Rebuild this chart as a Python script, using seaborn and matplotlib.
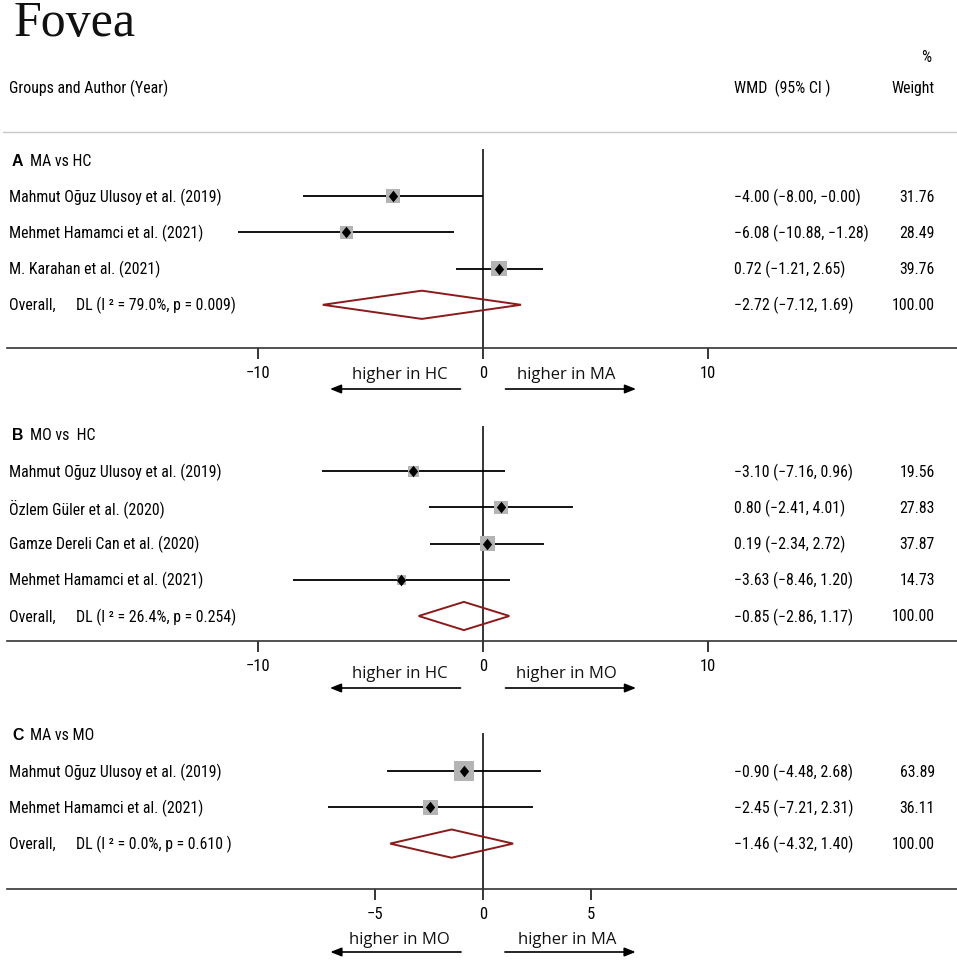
import matplotlib
matplotlib.use("Agg")
import matplotlib.pyplot as plt
import matplotlib.transforms as mtransforms
from matplotlib import font_manager
from matplotlib.lines import Line2D
import seaborn as sns
import pandas as pd

# ---- data ----
studies_a = ["Mahmut Oğuz Ulusoy et al. (2019)", "Mehmet Hamamci et al. (2021)",
             "M. Karahan et al. (2021)"]
wmd_a = [-4.00, -6.08, 0.72]
lo_a = [-8.00, -10.88, -1.21]
hi_a = [-0.0, -1.28, 2.65]
weight_a = [31.76, 28.49, 39.76]
overall_a = [-2.72, -7.12, 1.69]
het_a = "DL (I ² = 79.0%, p = 0.009)"

studies_b = ["Mahmut Oğuz Ulusoy et al. (2019)", "Özlem Güler et al. (2020)",
             "Gamze Dereli Can et al. (2020)", "Mehmet Hamamci et al. (2021)"]
wmd_b = [-3.10, 0.80, 0.19, -3.63]
lo_b = [-7.16, -2.41, -2.34, -8.46]
hi_b = [0.96, 4.01, 2.72, 1.20]
weight_b = [19.56, 27.83, 37.87, 14.73]
overall_b = [-0.85, -2.86, 1.17]
het_b = "DL (I ² = 26.4%, p = 0.254)"

studies_c = ["Mahmut Oğuz Ulusoy et al. (2019)", "Mehmet Hamamci et al. (2021)"]
wmd_c = [-0.90, -2.45]
lo_c = [-4.48, -7.21]
hi_c = [2.68, 2.31]
weight_c = [63.89, 36.11]
overall_c = [-1.46, -4.32, 1.40]
het_c = "DL (I ² = 0.0%, p = 0.610 )"

ticks_ab = [-10, 0, 10]
ticks_c = [-5, 0, 5]

# ---- style ----
sns.set_theme(style="white")
installed = {f.name for f in font_manager.fontManager.ttflist}
fam = next(f for f in ["Liberation Sans Narrow", "Roboto Condensed", "Roboto", "DejaVu Sans"]
           if f in installed)
plt.rcParams["font.family"] = [fam, "DejaVu Sans"]
plt.rcParams["text.color"] = "black"
plt.rcParams["xtick.color"] = "black"
plt.rcParams["xtick.labelcolor"] = "black"

W, H = 957, 962
fig = plt.figure(figsize=(W / 100, H / 100), dpi=100)

# fit the table font so the longest study label is about as wide as in the reference
probe = fig.text(0, 0, studies_a[0], fontsize=12)
fig.canvas.draw()
FS = 12 * 212 / probe.get_window_extent().width
probe.remove()

ROW = 36.2
ZERO_PX = 483
CI_COL = "black"
SQ_COL = "#b4b4b4"
DIA_COL = "#8b1a1a"


def fmt(v):
    return f"{v:.2f}".replace("-", "\u2212")


def ci_text(e, lo, hi):
    return f"{fmt(e)} ({fmt(lo)}, {fmt(hi)})"


# header
fig.text(14 / W, 1 - 36 / H, "Fovea", family="Liberation Serif", fontsize=36,
         va="baseline", color="#111111")
fig.text(9 / W, 1 - 88 / H, "Groups and Author (Year)", fontsize=FS, va="center")
fig.text(734 / W, 1 - 88 / H, "WMD  (95% CI )", fontsize=FS, va="center")
fig.text(935 / W, 1 - 88 / H, "Weight", fontsize=FS, va="center", ha="right")
fig.text(926 / W, 1 - 58 / H, "%", fontsize=FS, va="center", ha="center")
fig.add_artist(Line2D([3 / W, 1], [1 - 133 / H, 1 - 133 / H],
                      transform=fig.transFigure, color="#c8c8c8", lw=1.0))

panels = [
    dict(letter="A", title="MA vs HC", studies=studies_a, wmd=wmd_a, lo=lo_a, hi=hi_a,
         weight=weight_a, overall=overall_a, het=het_a, ticks=ticks_ab,
         header_px=161, axis_px=349, top=-0.3, scale=22.5,
         labels=("higher in HC", "higher in MA"), lab_off=26, arr_off=41,
         arrow=(1.0, 6.8), lab_x=3.7),
    dict(letter="B", title="MO vs  HC", studies=studies_b, wmd=wmd_b, lo=lo_b, hi=hi_b,
         weight=weight_b, overall=overall_b, het=het_b, ticks=ticks_ab,
         header_px=436, axis_px=642, top=-0.25, scale=22.5,
         labels=("higher in HC", "higher in MO"), lab_off=32, arr_off=47,
         arrow=(1.0, 6.8), lab_x=3.7),
    dict(letter="C", title="MA vs MO", studies=studies_c, wmd=wmd_c, lo=lo_c, hi=hi_c,
         weight=weight_c, overall=overall_c, het=het_c, ticks=ticks_c,
         header_px=736, axis_px=890, top=-0.05, scale=21.5,
         labels=("higher in MO", "higher in MA"), lab_off=50, arr_off=63,
         arrow=(1.02, 7.1), lab_x=3.9),
]

for p in panels:
    n = len(p["studies"])
    rows = list(range(1, n + 1))
    orow = n + 1
    top_px = p["header_px"] + p["top"] * ROW
    ax = fig.add_axes([7 / W, 1 - p["axis_px"] / H, 950 / W, (p["axis_px"] - top_px) / H])
    ax.set_facecolor("none")
    ax.set_ylim((p["axis_px"] - p["header_px"]) / ROW, p["top"])
    ax.set_xlim((7 - ZERO_PX) / p["scale"], (W - ZERO_PX) / p["scale"])
    for s in ["top", "left", "right"]:
        ax.spines[s].set_visible(False)
    ax.spines["bottom"].set_color("#333333")
    ax.spines["bottom"].set_linewidth(1.2)
    ax.set_yticks([])
    ax.set_xticks(p["ticks"])
    ax.tick_params(axis="x", bottom=True, direction="out", length=8, width=1.1,
                   color="black", labelsize=FS + 0.5, pad=4)

    ax.axvline(0, color="black", lw=1.1, zorder=1)

    df = pd.DataFrame({"wmd": p["wmd"], "row": rows, "weight": p["weight"]})
    ax.hlines(df["row"], p["lo"], p["hi"], color=CI_COL, lw=1.3, zorder=2)
    sns.scatterplot(data=df, x="wmd", y="row", size="weight", sizes=(0, 324),
                    size_norm=(0, 100), marker="s", color=SQ_COL, edgecolor="none",
                    linewidth=0, legend=False, ax=ax, zorder=3)
    ax.scatter(df["wmd"], df["row"], marker=[(0, 1), (0.8, 0), (0, -1), (-0.8, 0)],
               s=70, color="black", linewidths=0, zorder=4)
    e, lo, hi = p["overall"]
    ax.fill([lo, e, hi, e], [orow, orow - 0.39, orow, orow + 0.39], facecolor="none",
            edgecolor=DIA_COL, lw=1.4, zorder=3)
    ax.set_xlabel("")
    ax.set_ylabel("")

    tr = mtransforms.blended_transform_factory(fig.transFigure, ax.transData)
    ax.text(12 / W, 0, p["letter"], transform=tr, fontsize=FS, va="center",
            family="Liberation Sans", fontweight="bold")
    ax.text(30 / W, 0, p["title"], transform=tr, fontsize=FS, va="center")
    for r, name, we, l, h, wt in zip(rows, p["studies"], p["wmd"], p["lo"], p["hi"],
                                     p["weight"]):
        ax.text(9 / W, r, name, transform=tr, fontsize=FS, va="center")
        ax.text(734 / W, r, ci_text(we, l, h), transform=tr, fontsize=FS, va="center")
        ax.text(935 / W, r, f"{wt:.2f}", transform=tr, fontsize=FS, va="center",
                ha="right")
    ax.text(9 / W, orow, "Overall,", transform=tr, fontsize=FS, va="center")
    ax.text(76 / W, orow, p["het"], transform=tr, fontsize=FS, va="center")
    ax.text(734 / W, orow, ci_text(e, lo, hi), transform=tr, fontsize=FS, va="center")
    ax.text(935 / W, orow, "100.00", transform=tr, fontsize=FS, va="center", ha="right")

    # direction labels and arrows
    xt = ax.get_xaxis_transform()
    lab_tr = mtransforms.offset_copy(xt, fig=fig, y=-p["lab_off"], units="dots")
    arr_tr = mtransforms.offset_copy(xt, fig=fig, y=-p["arr_off"], units="dots")
    a0, a1 = p["arrow"]
    for sign, lab in [(-1, p["labels"][0]), (1, p["labels"][1])]:
        ax.text(sign * p["lab_x"], 0, lab, transform=lab_tr, fontsize=12,
                family="Open Sans", ha="center", va="center", color="#111111")
        ax.annotate("", xy=(sign * a1, 0), xytext=(sign * a0, 0), xycoords=arr_tr,
                    textcoords=arr_tr,
                    arrowprops=dict(arrowstyle="-|>,head_length=0.55,head_width=0.22",
                                    color="black", lw=1.2, shrinkA=0, shrinkB=0),
                    annotation_clip=False)

fig.savefig("out.png", dpi=100)
